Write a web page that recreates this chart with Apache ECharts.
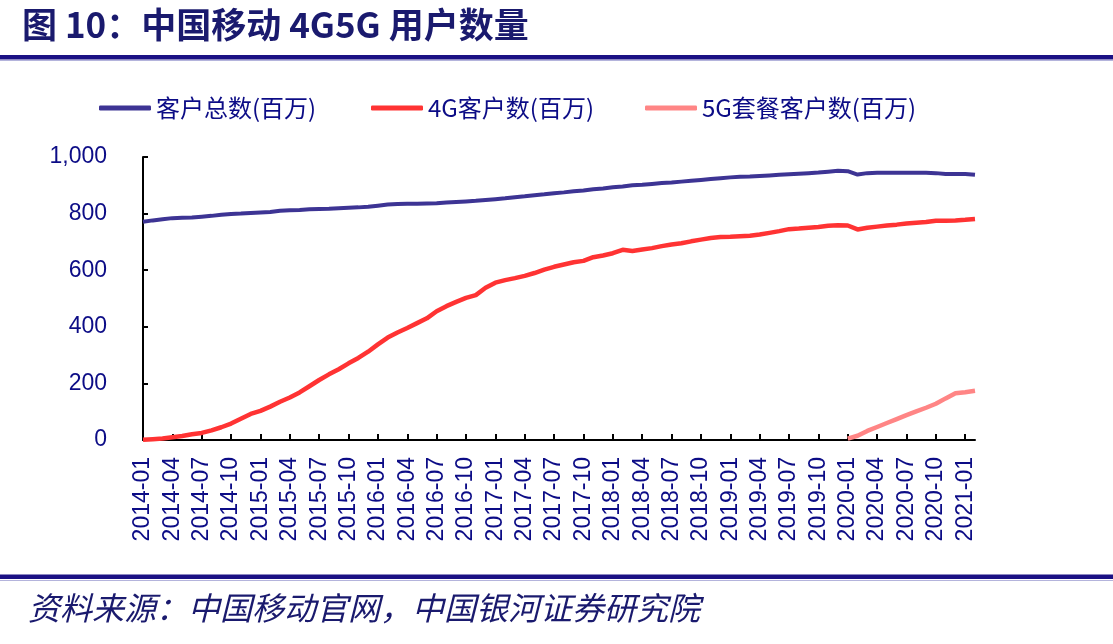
<!DOCTYPE html>
<html>
<head>
<meta charset="utf-8">
<script src="https://cdn.jsdelivr.net/npm/echarts@6/dist/echarts.min.js"></script>
<style>
  html, body { margin: 0; padding: 0; background: #fff; }
  #main { width: 1113px; height: 644px; }
</style>
</head>
<body>
<div id="main"></div>
<script>
// 月份：2014-01 ~ 2021-02
const months = [];
for (let y = 2014; y <= 2021; y++) {
  for (let m = 1; m <= 12; m++) {
    if (y === 2021 && m > 2) break;
    months.push(y + "-" + (m < 10 ? "0" + m : m));
  }
}

// 客户总数(百万)
const totalUsers = [
  771, 776, 780, 784, 785, 786, 789, 792, 796, 799, 800, 802,
  804, 806, 810, 812, 813, 815, 816, 817, 819, 821, 822, 824,
  828, 832, 834, 835, 835, 836, 837, 839, 841, 843, 845, 848,
  851, 854, 858, 861, 865, 868, 872, 875, 879, 882, 886, 889,
  893, 896, 900, 902, 905, 908, 910, 913, 916, 919, 922, 925,
  928, 930, 931, 933, 935, 937, 939, 941, 943, 945, 948, 951,
  950, 938, 943, 944, 944, 944, 944, 944, 944, 943, 940, 940,
  940, 937
];

// 4G客户数(百万)
const users4G = [
  1, 3, 5, 10, 14, 20, 25, 34, 45, 58, 75, 92,
  103, 118, 135, 150, 168, 190, 212, 232, 250, 271, 290, 312,
  338, 362, 380, 396, 413, 430, 455, 473, 488, 502, 512, 538,
  556, 565, 572, 580, 590, 602, 612, 620, 628, 633, 646, 652,
  660, 672, 668, 673, 678, 685, 691, 695, 702, 708, 714, 717,
  718, 720, 722, 726, 732, 738, 745, 747, 750, 753, 757, 759,
  758, 744, 750, 754, 758, 761, 765, 768, 770, 775, 775, 776,
  778, 781
];

// 5G套餐客户数(百万)，从 2020-01 开始
const start5G = "2020-01";
const users5G = [5, 15, 32, 46, 60, 74, 88, 101, 114, 128, 147, 165, 169, 174];

const names = ["客户总数(百万)", "4G客户数(百万)", "5G套餐客户数(百万)"];
const colors = ["#3d3494", "#ff3333", "#ff8585"];

const data5G = months.map((m, i) => {
  const k = i - months.indexOf(start5G);
  return k >= 0 && k < users5G.length ? users5G[k] : null;
});

const navy = "#0c0c86";
const cjk = "'Noto Sans CJK SC', sans-serif";
const latin = "'Liberation Sans', Arial, sans-serif";

const chart = echarts.init(document.getElementById("main"));

function legendAt(i, left) {
  return {
    data: [names[i]],
    left: left,
    top: 91,
    icon: "roundRect",
    itemWidth: 52,
    itemHeight: 5,
    itemGap: 5,
    textStyle: { color: navy, fontSize: 24, fontFamily: cjk },
  };
}

chart.setOption({
  backgroundColor: "#fff",
  animation: false,
  color: colors,
  graphic: [
    {
      type: "text", left: 22, top: 7,
      style: {
        text: "图 10：中国移动 4G5G 用户数量",
        fill: "#1a1a6e", font: "bold 35px " + cjk,
      },
    },
    { type: "rect", shape: { x: 0, y: 55, width: 1113, height: 4.5 }, style: { fill: "#1b1184" } },
    { type: "rect", shape: { x: 0, y: 60, width: 1113, height: 1 }, style: { fill: "#b4b4dc" } },
    { type: "rect", shape: { x: 0, y: 574.5, width: 1113, height: 4.5 }, style: { fill: "#1b1184" } },
    { type: "rect", shape: { x: 0, y: 580, width: 1113, height: 1 }, style: { fill: "#b4b4dc" } },
    {
      type: "text", left: 28, top: 592,
      style: {
        text: "资料来源：中国移动官网，中国银河证券研究院",
        fill: "#1a1a6e", font: "italic 32px " + cjk,
      },
    },
  ],
  legend: [legendAt(0, 94), legendAt(1, 366), legendAt(2, 640)],
  grid: { left: 143, right: 138, top: 157, bottom: 204 },
  xAxis: {
    type: "category",
    data: months,
    boundaryGap: false,
    axisLine: { lineStyle: { color: "#000", width: 2 } },
    axisTick: { inside: true, length: 6, interval: 2, lineStyle: { color: "#000", width: 2 } },
    axisLabel: {
      interval: 2,
      rotate: 90,
      margin: 17,
      color: navy,
      fontSize: 23,
      fontFamily: latin,
    },
  },
  yAxis: {
    type: "value",
    min: 0,
    max: 1000,
    interval: 200,
    splitLine: { show: false },
    axisLine: { show: true, lineStyle: { color: "#000", width: 2 } },
    axisTick: { show: true, inside: true, length: 5, lineStyle: { color: "#000", width: 2 } },
    axisLabel: {
      margin: 36,
      color: navy,
      fontSize: 23,
      fontFamily: latin,
      formatter: (v) => v.toLocaleString("en-US"),
    },
  },
  series: [
    {
      name: names[0], type: "line", data: totalUsers, showSymbol: false,
      lineStyle: { width: 4, color: colors[0] },
    },
    {
      name: names[1], type: "line", data: users4G, showSymbol: false,
      lineStyle: { width: 4.5, color: colors[1] },
    },
    {
      name: names[2], type: "line", data: data5G, showSymbol: false,
      lineStyle: { width: 4.5, color: colors[2] },
    },
  ],
});
</script>
</body>
</html>
